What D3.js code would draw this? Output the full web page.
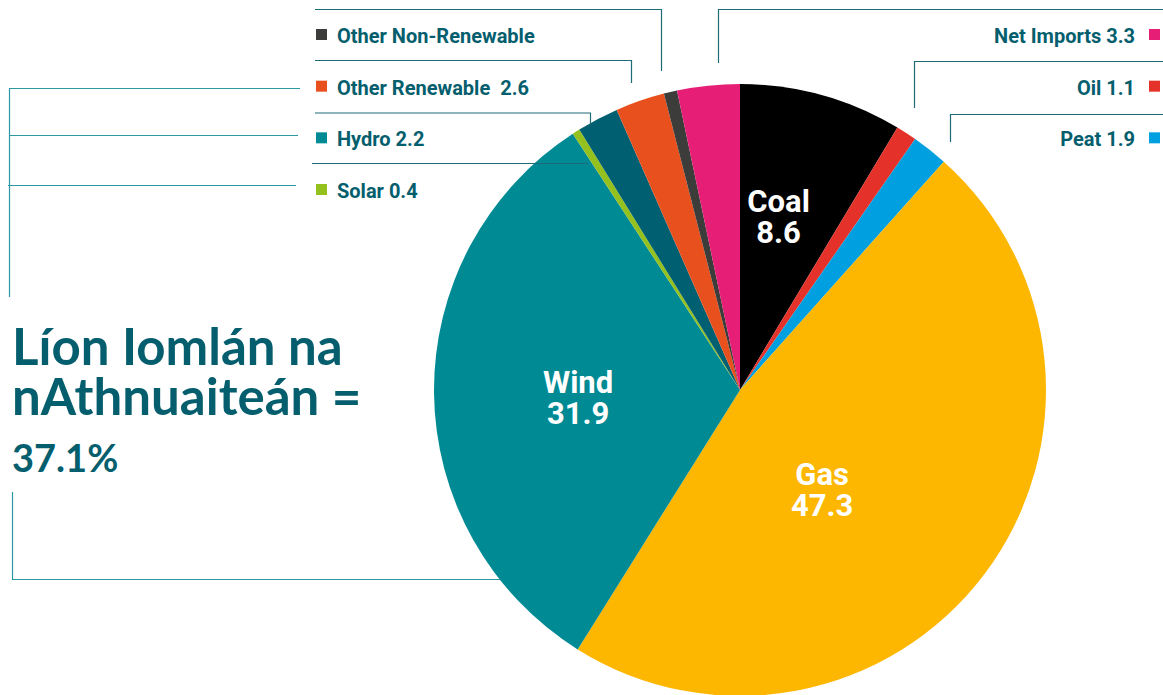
<!DOCTYPE html>
<html>
<head>
<meta charset="utf-8">
<script src="https://cdn.jsdelivr.net/npm/d3@7"></script>
<style>
  body { margin: 0; background: #fff; }
  svg { display: block; }
  .lbl { font-family: "Roboto", "DejaVu Sans Condensed", sans-serif; font-weight: bold; }
  .title { font-family: "Lato", "Open Sans", sans-serif; font-weight: bold; }
</style>
</head>
<body>
<svg id="chart"></svg>
<script>
// values (percent of electricity generation)
const categories = ["Coal", "Oil", "Peat", "Gas", "Wind", "Solar", "Hydro",
    "Other Renewable", "Other Non-Renewable", "Net Imports"]
const shares = [8.6, 1.1, 1.9, 47.3, 31.9, 0.4, 2.2, 2.6, 0.7, 3.3]
const sliceColors = ["#000000", "#e4322b", "#009fe0", "#fdb700", "#008a94",
    "#95c11f", "#005f70", "#e8511e", "#3c3c3b", "#e61e75"]

// legend entries (left column and right column)
const leftLegend = ["Other Non-Renewable", "Other Renewable", "Hydro", "Solar"]
const leftLegendText = ["Other Non-Renewable", "Other Renewable  2.6", "Hydro 2.2", "Solar 0.4"]
const leftSwatch = ["#3c3c3b", "#e8511e", "#008a94", "#95c11f"]
const rightLegend = ["Net Imports", "Oil", "Peat"]
const rightLegendText = ["Net Imports 3.3", "Oil 1.1", "Peat 1.9"]

// labels inside the pie
const pieLabels = ["Coal", "Wind", "Gas"]
const pieLabelValues = ["8.6", "31.9", "47.3"]

const titleLines = ["Líon Iomlán na", "nAthnuaiteán ="]
const renewableTotal = "37.1%"

const config = {
    width: 1163,
    height: 695,
    cx: 740,
    cy: 390,
    radius: 306,
    ink: "#055e6d",
    lineDark: "#1d6a79",
    lineLight: "#2b98a3"
}

const svg = d3.select("#chart")
    .attr("width", config.width)
    .attr("height", config.height)

// Pie
const pie = d3.pie().sort(null).value(d => d)
const arcs = pie(shares)
const arc = d3.arc().innerRadius(0).outerRadius(config.radius)

const g = svg.append("g")
    .attr("transform", `translate(${config.cx},${config.cy})`)

g.selectAll("path.slice")
    .data(arcs)
    .join("path")
    .attr("class", "slice")
    .attr("d", arc)
    .attr("fill", (d, i) => sliceColors[i])

// labels inside the pie: where along the slice (fraction) and how far out
const labelPlace = {
    Coal: {t: 0.40, r: 180},
    Wind: {t: 0.49, r: 162},
    Gas: {t: 0.575, r: 127}
}
pieLabels.forEach((name, k) => {
    const d = arcs[categories.indexOf(name)]
    const p = labelPlace[name]
    const a = d.startAngle + (d.endAngle - d.startAngle) * p.t
    const [x, y] = d3.pointRadial(a, p.r)
    const t = g.append("text")
        .attr("class", "lbl")
        .attr("text-anchor", "middle")
        .attr("fill", "#fff")
        .attr("font-size", "31px")
    t.append("tspan").attr("x", x).attr("y", y - 2).text(name)
    t.append("tspan").attr("x", x).attr("y", y + 29).text(pieLabelValues[k])
})

// Leader lines (drawn over the pie)
const leaders = svg.append("g").attr("fill", "none").attr("stroke-width", 1.2)
const topLeaders = [
    [[315, 9.5], [661.5, 9.5], [661.5, 71]],
    [[315, 60.5], [631.5, 60.5], [631.5, 83]],
    [[315, 113], [590.5, 113], [590.5, 125]],
    [[312, 163.5], [588, 163.5]],
    [[1163, 9.5], [718.5, 9.5], [718.5, 63]],
    [[1163, 61.5], [914.5, 61.5], [914.5, 108]],
    [[1163, 114.5], [950.5, 114.5], [950.5, 142]]
]
const sideLeaders = [
    [[300, 88.5], [9.5, 88.5], [9.5, 297]],
    [[298, 135.5], [9.5, 135.5]],
    [[296, 185.5], [8, 185.5]],
    [[12.5, 492], [12.5, 579.5], [500, 579.5]]
]
const line = d3.line()
leaders.selectAll("path.top")
    .data(topLeaders)
    .join("path")
    .attr("class", "top")
    .attr("d", line)
    .attr("stroke", config.lineDark)
leaders.selectAll("path.side")
    .data(sideLeaders)
    .join("path")
    .attr("class", "side")
    .attr("d", line)
    .attr("stroke", config.lineLight)

// Legend rows
const rowY = d3.scalePoint().domain(d3.range(4)).range([35, 190])

const left = svg.append("g")
left.selectAll("rect")
    .data(leftLegend)
    .join("rect")
    .attr("x", 316)
    .attr("y", (d, i) => rowY(i) - 6)
    .attr("width", 11)
    .attr("height", 11)
    .attr("fill", (d, i) => leftSwatch[i])
left.selectAll("text")
    .data(leftLegendText)
    .join("text")
    .attr("class", "lbl")
    .attr("x", 337)
    .attr("y", (d, i) => rowY(i) + 8)
    .attr("font-size", "20px")
    .attr("fill", config.ink)
    .style("white-space", "pre")
    .text(d => d)

const right = svg.append("g")
right.selectAll("rect")
    .data(rightLegend)
    .join("rect")
    .attr("x", 1149)
    .attr("y", (d, i) => rowY(i) - 6)
    .attr("width", 11)
    .attr("height", 11)
    .attr("fill", d => sliceColors[categories.indexOf(d)])
right.selectAll("text")
    .data(rightLegendText)
    .join("text")
    .attr("class", "lbl")
    .attr("x", 1135)
    .attr("y", (d, i) => rowY(i) + 8)
    .attr("text-anchor", "end")
    .attr("font-size", "20px")
    .attr("fill", config.ink)
    .text(d => d)

// Renewables total
const title = svg.append("text")
    .attr("class", "title")
    .attr("fill", config.ink)
title.selectAll("tspan.l")
    .data(titleLines)
    .join("tspan")
    .attr("class", "l")
    .attr("x", 12)
    .attr("y", (d, i) => 365 + i * 50)
    .attr("font-size", "51px")
    .text(d => d)
title.append("tspan")
    .attr("x", 12)
    .attr("y", 472)
    .attr("font-size", "38px")
    .text(renewableTotal)
</script>
</body>
</html>
